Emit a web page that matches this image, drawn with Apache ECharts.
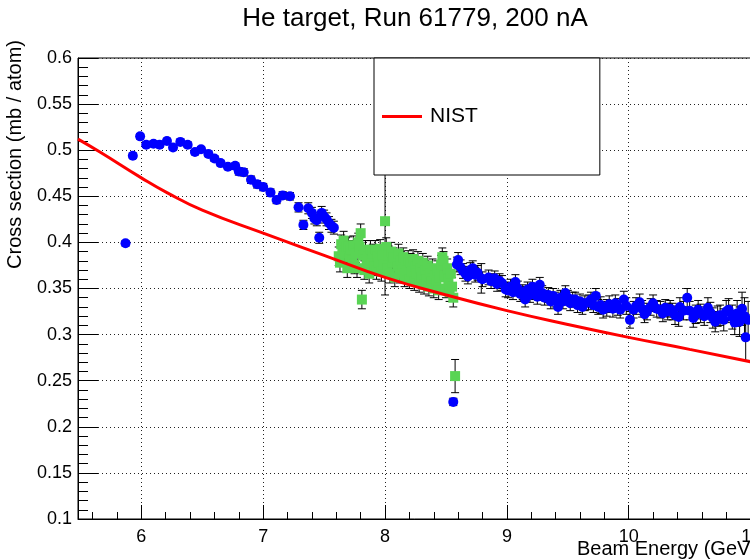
<!DOCTYPE html>
<html>
<head>
<meta charset="utf-8">
<script src="https://cdn.jsdelivr.net/npm/echarts@6/dist/echarts.min.js"></script>
<style>
  html, body { margin: 0; padding: 0; background: #fff; }
  #chart { width: 750px; height: 559px; }
</style>
</head>
<body>
<div id="chart"></div>
<script>
// Run 61779 measurement, first pass: [beam energy (GeV), cross section (mb/atom), error]
const blueData = [
  [5.87, 0.399, 0.003], [5.93, 0.494, 0.003], [5.99, 0.515, 0.003], [6.04, 0.506, 0.003],
  [6.10, 0.507, 0.003], [6.15, 0.506, 0.003], [6.21, 0.510, 0.003], [6.26, 0.503, 0.003],
  [6.32, 0.509, 0.003], [6.38, 0.506, 0.003], [6.44, 0.498, 0.003], [6.49, 0.501, 0.003],
  [6.55, 0.496, 0.003], [6.60, 0.491, 0.003], [6.65, 0.486, 0.003], [6.71, 0.482, 0.003],
  [6.77, 0.483, 0.003], [6.80, 0.477, 0.004], [6.84, 0.476, 0.004], [6.90, 0.468, 0.004],
  [6.95, 0.463, 0.004], [7.00, 0.460, 0.004], [7.06, 0.454, 0.004], [7.11, 0.446, 0.004],
  [7.16, 0.451, 0.004], [7.22, 0.450, 0.004], [7.29, 0.438, 0.005], [7.33, 0.419, 0.005],
  [7.37, 0.437, 0.006], [7.40, 0.432, 0.006], [7.42, 0.426, 0.006], [7.44, 0.424, 0.006],
  [7.46, 0.405, 0.006], [7.48, 0.432, 0.007], [7.50, 0.428, 0.007], [7.52, 0.425, 0.007],
  [7.54, 0.421, 0.007], [7.56, 0.418, 0.007], [7.58, 0.416, 0.007],
  [8.56, 0.227, 0.004],
  [8.59, 0.376, 0.008], [8.60, 0.381, 0.008], [8.62, 0.373, 0.008], [8.64, 0.369, 0.008],
  [8.66, 0.366, 0.008], [8.68, 0.363, 0.008], [8.70, 0.370, 0.008], [8.72, 0.372, 0.008],
  [8.74, 0.365, 0.008], [8.76, 0.367, 0.008], [8.79, 0.361, 0.016], [8.80, 0.360, 0.008],
  [8.85, 0.362, 0.008], [8.87, 0.358, 0.008], [8.90, 0.361, 0.008], [8.92, 0.355, 0.008],
  [8.94, 0.358, 0.008], [8.96, 0.356, 0.008], [8.99, 0.349, 0.008], [9.01, 0.348, 0.008],
  [9.03, 0.352, 0.008], [9.05, 0.346, 0.008], [9.07, 0.357, 0.008], [9.09, 0.350, 0.008],
  [9.11, 0.344, 0.008], [9.13, 0.346, 0.008], [9.15, 0.338, 0.008], [9.17, 0.349, 0.008],
  [9.19, 0.343, 0.008], [9.21, 0.352, 0.008], [9.23, 0.346, 0.008], [9.25, 0.341, 0.008],
  [9.27, 0.354, 0.008], [9.29, 0.345, 0.008], [9.31, 0.340, 0.008], [9.34, 0.343, 0.008],
  [9.36, 0.336, 0.008], [9.38, 0.342, 0.008], [9.40, 0.338, 0.008], [9.42, 0.330, 0.008],
  [9.44, 0.340, 0.008], [9.46, 0.336, 0.008], [9.48, 0.345, 0.008], [9.50, 0.340, 0.008],
  [9.52, 0.334, 0.008], [9.54, 0.338, 0.008], [9.56, 0.338, 0.008], [9.58, 0.332, 0.008],
  [9.60, 0.336, 0.008], [9.62, 0.330, 0.008], [9.64, 0.334, 0.008], [9.67, 0.335, 0.008],
  [9.69, 0.338, 0.008], [9.71, 0.332, 0.008], [9.73, 0.342, 0.008], [9.75, 0.330, 0.008],
  [9.77, 0.332, 0.009], [9.79, 0.327, 0.009], [9.82, 0.329, 0.009], [9.84, 0.333, 0.009],
  [9.87, 0.328, 0.009], [9.89, 0.334, 0.009], [9.91, 0.330, 0.009], [9.93, 0.327, 0.009],
  [9.96, 0.338, 0.009], [9.98, 0.331, 0.009], [10.01, 0.316, 0.009], [10.04, 0.327, 0.009],
  [10.06, 0.331, 0.009], [10.09, 0.335, 0.009], [10.11, 0.328, 0.009], [10.13, 0.322, 0.009],
  [10.15, 0.325, 0.009], [10.18, 0.330, 0.009], [10.20, 0.334, 0.009], [10.23, 0.328, 0.009],
  [10.26, 0.327, 0.009], [10.28, 0.323, 0.009], [10.30, 0.329, 0.009], [10.32, 0.325, 0.009],
  [10.34, 0.328, 0.009], [10.36, 0.325, 0.009], [10.38, 0.321, 0.010], [10.41, 0.319, 0.010],
  [10.42, 0.330, 0.010], [10.45, 0.326, 0.010], [10.48, 0.340, 0.010], [10.50, 0.326, 0.010],
  [10.53, 0.318, 0.010], [10.55, 0.322, 0.010], [10.57, 0.327, 0.010], [10.59, 0.323, 0.010],
  [10.62, 0.320, 0.010], [10.65, 0.329, 0.011], [10.67, 0.324, 0.011], [10.69, 0.318, 0.011],
  [10.71, 0.314, 0.011], [10.73, 0.320, 0.011], [10.75, 0.321, 0.011], [10.78, 0.316, 0.012],
  [10.80, 0.325, 0.012], [10.82, 0.327, 0.012], [10.85, 0.319, 0.013], [10.87, 0.313, 0.013],
  [10.89, 0.323, 0.014], [10.91, 0.314, 0.016], [10.93, 0.328, 0.018], [10.95, 0.320, 0.020],
  [10.96, 0.297, 0.025], [10.98, 0.316, 0.020]
];

// Second pass over the middle energies: [beam energy (GeV), cross section (mb/atom), error]
const greenData = [
  [7.62, 0.385, 0.010], [7.63, 0.378, 0.010], [7.64, 0.398, 0.010], [7.65, 0.392, 0.010],
  [7.66, 0.402, 0.010], [7.67, 0.388, 0.010], [7.68, 0.395, 0.010], [7.69, 0.372, 0.010],
  [7.70, 0.396, 0.010], [7.71, 0.384, 0.010], [7.72, 0.392, 0.010], [7.73, 0.380, 0.010],
  [7.74, 0.397, 0.010], [7.75, 0.376, 0.010], [7.76, 0.388, 0.010], [7.77, 0.372, 0.010],
  [7.78, 0.400, 0.010], [7.79, 0.395, 0.010], [7.80, 0.410, 0.010], [7.81, 0.338, 0.010],
  [7.82, 0.386, 0.010], [7.83, 0.370, 0.010], [7.84, 0.392, 0.010], [7.85, 0.378, 0.010],
  [7.86, 0.385, 0.010], [7.87, 0.366, 0.010], [7.88, 0.392, 0.010], [7.89, 0.380, 0.010],
  [7.90, 0.388, 0.010], [7.91, 0.374, 0.010], [7.92, 0.392, 0.010], [7.93, 0.370, 0.010],
  [7.94, 0.385, 0.010], [7.95, 0.378, 0.010], [7.96, 0.393, 0.010], [7.97, 0.368, 0.010],
  [7.98, 0.386, 0.010], [7.99, 0.376, 0.010], [8.00, 0.423, 0.080], [8.01, 0.395, 0.010],
  [8.02, 0.372, 0.010], [8.03, 0.386, 0.010], [8.04, 0.366, 0.010], [8.05, 0.390, 0.010],
  [8.06, 0.378, 0.010], [8.07, 0.384, 0.010], [8.08, 0.362, 0.010], [8.09, 0.382, 0.010],
  [8.10, 0.374, 0.010], [8.11, 0.388, 0.010], [8.12, 0.366, 0.010], [8.13, 0.380, 0.010],
  [8.14, 0.371, 0.010], [8.15, 0.384, 0.010], [8.16, 0.362, 0.010], [8.17, 0.377, 0.010],
  [8.18, 0.370, 0.010], [8.19, 0.381, 0.010], [8.20, 0.360, 0.010], [8.21, 0.378, 0.010],
  [8.22, 0.368, 0.010], [8.23, 0.382, 0.010], [8.24, 0.358, 0.010], [8.25, 0.374, 0.010],
  [8.26, 0.366, 0.010], [8.27, 0.380, 0.010], [8.28, 0.356, 0.010], [8.29, 0.372, 0.010],
  [8.30, 0.362, 0.010], [8.31, 0.378, 0.010], [8.32, 0.354, 0.010], [8.33, 0.370, 0.010],
  [8.34, 0.360, 0.010], [8.35, 0.375, 0.010], [8.36, 0.352, 0.010], [8.37, 0.366, 0.010],
  [8.38, 0.358, 0.010], [8.39, 0.372, 0.010], [8.40, 0.350, 0.010], [8.41, 0.364, 0.010],
  [8.42, 0.356, 0.010], [8.43, 0.370, 0.010], [8.44, 0.348, 0.010], [8.45, 0.362, 0.010],
  [8.46, 0.376, 0.010], [8.47, 0.384, 0.010], [8.48, 0.380, 0.010], [8.49, 0.364, 0.010],
  [8.50, 0.350, 0.010], [8.51, 0.372, 0.010], [8.52, 0.360, 0.010], [8.53, 0.346, 0.010],
  [8.54, 0.366, 0.010], [8.55, 0.352, 0.010], [8.56, 0.340, 0.010], [8.575, 0.255, 0.018]
];

// NIST reference cross section
const nistEnergy = [5.48, 5.66, 6.0, 6.21, 6.5, 7.0, 7.5, 8.0, 8.5, 9.0, 9.5, 10.0, 10.5, 11.02];
const nistXsec   = [0.512, 0.498, 0.470, 0.454, 0.435, 0.410, 0.386, 0.362, 0.343, 0.326, 0.311, 0.297, 0.284, 0.270];

const titleText = 'He target, Run 61779, 200 nA';
const xTitle = 'Beam Energy (GeV)';
const yTitle = 'Cross section (mb / atom)';

const FONT = 'Liberation Sans, Arial, Helvetica, sans-serif';
const chart = echarts.init(document.getElementById('chart'), null, { renderer: 'canvas' });

function errorBars(data, name) {
  return {
    type: 'custom',
    name: name,
    silent: true,
    z: 2,
    data: data.map(d => [d[0], d[1] - d[2], d[1] + d[2]]),
    encode: { x: 0, y: [1, 2] },
    renderItem: function (params, api) {
      const lo = api.coord([api.value(0), api.value(1)]);
      const hi = api.coord([api.value(0), api.value(2)]);
      const c = 4;
      const st = { stroke: '#000', lineWidth: 1 };
      return {
        type: 'group',
        children: [
          { type: 'line', shape: { x1: lo[0], y1: lo[1], x2: hi[0], y2: hi[1] }, style: st },
          { type: 'line', shape: { x1: lo[0] - c, y1: lo[1], x2: lo[0] + c, y2: lo[1] }, style: st },
          { type: 'line', shape: { x1: hi[0] - c, y1: hi[1], x2: hi[0] + c, y2: hi[1] }, style: st }
        ]
      };
    }
  };
}

const xMin = 5.48, xMax = 11.02;

chart.setOption({
  animation: false,
  backgroundColor: '#fff',
  textStyle: { fontFamily: FONT },
  grid: {
    left: 78, right: -3, top: 58, bottom: 40,
    outerBoundsMode: 'none',
    containLabel: false,
    show: true, borderColor: '#000', borderWidth: 1, backgroundColor: 'transparent'
  },
  legend: {
    data: [{ name: 'NIST', icon: 'rect' }],
    left: 374, top: 58,
    orient: 'horizontal',
    padding: [48, 122, 48, 8],
    backgroundColor: '#fff',
    borderColor: '#000',
    borderWidth: 1,
    itemWidth: 40,
    itemHeight: 3,
    itemGap: 0,
    textStyle: { fontSize: 21, color: '#000', fontFamily: FONT, padding: [0, 0, 0, 3] },
    selectedMode: false,
    z: 10
  },
  graphic: [
    { type: 'text', x: 415, y: 19, style: { text: titleText, fontSize: 26, fontFamily: FONT, fill: '#000', align: 'center', verticalAlign: 'middle' } },
    { type: 'text', x: 15, y: 40, rotation: Math.PI / 2, style: { text: yTitle, fontSize: 20, fontFamily: FONT, fill: '#000', align: 'right', verticalAlign: 'middle' } },
    { type: 'text', x: 757, y: 549, style: { text: xTitle, fontSize: 20, fontFamily: FONT, fill: '#000', align: 'right', verticalAlign: 'middle' } }
  ],
  xAxis: [
    {
      type: 'value', min: xMin, max: xMax, position: 'bottom',
      axisLine: { show: true, lineStyle: { color: '#000', width: 1 } },
      axisTick: { show: true, inside: true, length: 14, lineStyle: { color: '#000' } },
      minorTick: { show: false },
      axisLabel: {
        color: '#000', fontSize: 18, margin: 9, fontFamily: FONT,
        formatter: v => (Math.abs(v - Math.round(v)) < 1e-6 ? String(Math.round(v)) : '')
      },
      splitLine: { show: true, lineStyle: { color: '#222', type: [1, 3], width: 1 } }
    },
    {
      // minor ticks every 0.2 GeV
      type: 'value', min: xMin, max: xMax, position: 'bottom', splitNumber: 28,
      axisLine: { show: false },
      axisTick: { show: true, inside: true, length: 7, lineStyle: { color: '#000' } },
      axisLabel: { show: false },
      splitLine: { show: false }
    }
  ],
  yAxis: {
    type: 'value', min: 0.1, max: 0.6, interval: 0.05,
    axisLine: { show: true, lineStyle: { color: '#000', width: 1 } },
    axisTick: { show: true, inside: true, length: 20, lineStyle: { color: '#000' } },
    minorTick: { show: true, splitNumber: 5, length: 10, lineStyle: { color: '#000' } },
    axisLabel: { color: '#000', fontSize: 18, margin: 6, fontFamily: FONT },
    splitLine: { show: true, lineStyle: { color: '#222', type: [1, 3], width: 1 } }
  },
  series: [
    errorBars(greenData, 'green-err'),
    {
      type: 'scatter', name: 'pass2', z: 3,
      symbol: 'rect', symbolSize: 10,
      itemStyle: { color: '#59d454', opacity: 1 },
      data: greenData.map(d => [d[0], d[1]])
    },
    errorBars(blueData, 'blue-err'),
    {
      type: 'scatter', name: 'pass1', z: 4,
      symbol: 'circle', symbolSize: 10,
      itemStyle: { color: '#0000ff', opacity: 1 },
      data: blueData.map(d => [d[0], d[1]])
    },
    {
      type: 'line', name: 'NIST', z: 5,
      smooth: true, showSymbol: false, symbol: 'none',
      lineStyle: { color: '#ff0000', width: 3 },
      itemStyle: { color: '#ff0000' },
      data: nistEnergy.map((e, i) => [e, nistXsec[i]])
    }
  ]
});
</script>
</body>
</html>
